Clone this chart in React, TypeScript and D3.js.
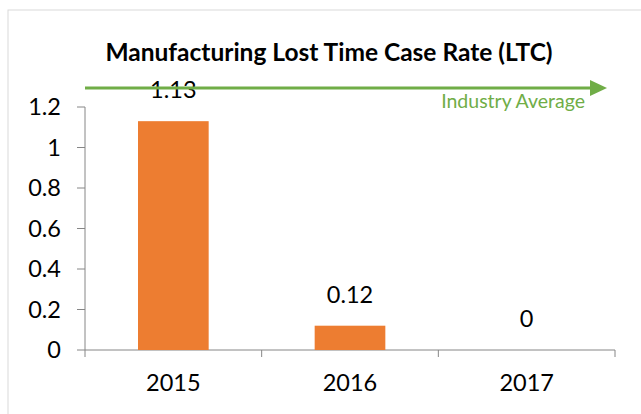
import React from "react";
import * as d3 from "d3";

const categories = ["2015", "2016", "2017"];
const values = [1.13, 0.12, 0];
const valueLabels = ["1.13", "0.12", "0"];
const yTicks = [0, 0.2, 0.4, 0.6, 0.8, 1, 1.2];
const yTickLabels = ["0", "0.2", "0.4", "0.6", "0.8", "1", "1.2"];
const title = "Manufacturing Lost Time Case Rate (LTC)";
const refLabel = "Industry Average";

export default function App() {
  const W = 641, H = 414;
  const plotLeft = 85, plotRight = 615, plotTop = 107, plotBottom = 350;
  const x = d3.scaleBand<string>().domain(categories).range([plotLeft, plotRight]).paddingInner(0.6).paddingOuter(0.3);
  const xOuter = d3.scaleBand<string>().domain(categories).range([plotLeft, plotRight]);
  const y = d3.scaleLinear().domain([0, 1.2]).range([plotBottom, plotTop]);
  const font = "Lato, 'Open Sans', sans-serif";
  const green = "#70AD47";
  const orange = "#ED7D31";
  const arrowY = 88;
  const fs = 23.5;
  return (
    <div style={{ position: "fixed", left: 0, top: 0 }}>
      <svg width={W} height={H} style={{ display: "block", background: "#fff" }}>
        <rect x={8} y={10} width={W} height={H} fill="#fff" stroke="#d9d9d9" strokeWidth={1} />
        <text x={329} y={61} textAnchor="middle" fontFamily={font} fontWeight="bold" fontSize={24.5} fill="#000">{title}</text>
        {/* y axis */}
        <line x1={plotLeft} x2={plotLeft} y1={plotTop} y2={plotBottom} stroke="#868686" />
        {yTicks.map((t, i) => (
          <g key={t}>
            <line x1={plotLeft - 8} x2={plotLeft} y1={y(t)} y2={y(t)} stroke="#868686" />
            <text x={plotLeft - 24} y={y(t)} dy="0.35em" textAnchor="end" fontFamily={font} fontSize={fs} fill="#000">{yTickLabels[i]}</text>
          </g>
        ))}
        {/* x axis */}
        <line x1={plotLeft} x2={plotRight} y1={plotBottom} y2={plotBottom} stroke="#868686" />
        {[...categories.map((c) => xOuter(c) as number), plotRight].map((px, i) => (
          <line key={i} x1={px} x2={px} y1={plotBottom} y2={plotBottom + 7} stroke="#868686" />
        ))}
        {categories.map((c) => (
          <text key={c} x={(xOuter(c) as number) + xOuter.bandwidth() / 2} y={383} dy="0.35em" textAnchor="middle" fontFamily={font} fontSize={fs} fill="#000">{c}</text>
        ))}
        {/* bars */}
        {categories.map((c, i) => (
          <rect key={c} x={x(c)} y={y(values[i])} width={x.bandwidth()} height={plotBottom - y(values[i])} fill={orange} />
        ))}
        {/* data labels */}
        {categories.map((c, i) => (
          <text key={c} x={(x(c) as number) + x.bandwidth() / 2} y={y(values[i]) - 31} dy="0.35em" textAnchor="middle" fontFamily={font} fontSize={fs} fill="#000">{valueLabels[i]}</text>
        ))}
        {/* arrow */}
        <line x1={plotLeft} x2={592} y1={arrowY} y2={arrowY} stroke={green} strokeWidth={3} />
        <path d={`M590,${arrowY - 8} L607,${arrowY} L590,${arrowY + 8} Z`} fill={green} />
        <text x={585} y={101} dy="0.35em" textAnchor="end" fontFamily={font} fontSize={19.5} fill={green}>{refLabel}</text>
      </svg>
    </div>
  );
}
